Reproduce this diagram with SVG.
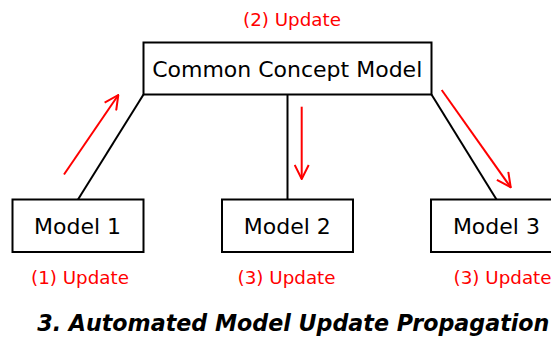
<svg xmlns="http://www.w3.org/2000/svg" width="551" height="338" viewBox="0 0 551 338">
  <style>
    .box { fill: #ffffff; stroke: #000000; stroke-width: 2; }
    .name { font-family: "DejaVu Sans", sans-serif; font-size: 22px; fill: #000000; text-anchor: middle; }
    .note { font-family: "DejaVu Sans", sans-serif; font-size: 18.3px; fill: #ff0000; }
    .link { stroke: #000000; stroke-width: 2; fill: none; }
    .flow { stroke: #ff0000; stroke-width: 2; fill: none; marker-end: url(#head); }
    .title { font-family: "DejaVu Sans", sans-serif; font-size: 22.2px; font-weight: bold; font-style: italic; text-anchor: middle; fill: #000000; }
  </style>
  <defs>
    <marker id="head" markerUnits="userSpaceOnUse" viewBox="0 0 16 16" refX="15" refY="8" markerWidth="16" markerHeight="16" orient="auto">
      <path d="M1,1 L15,8 L1,15" fill="none" stroke="#ff0000" stroke-width="2"/>
    </marker>
  </defs>

  <rect width="551" height="338" fill="#ffffff"/>

  <!-- structural links -->
  <g id="connectors">
    <line class="link" x1="143.5" y1="94.5" x2="78" y2="199.5"/>
    <line class="link" x1="287.5" y1="94.5" x2="287.5" y2="199.5"/>
    <line class="link" x1="431.5" y1="94.5" x2="496.5" y2="199.5"/>
  </g>

  <!-- update flow arrows -->
  <g id="update-arrows">
    <line class="flow" x1="64" y1="174.5" x2="118.3" y2="95"/>
    <line class="flow" x1="301.7" y1="106.7" x2="301.7" y2="179"/>
    <line class="flow" x1="441.7" y1="90" x2="510.7" y2="187.3"/>
  </g>

  <g id="common-model">
    <rect class="box" x="143.5" y="42.5" width="288" height="52"/>
    <text class="name" x="287.2" y="76.7">Common Concept Model</text>
    <text class="note" x="292" y="26" text-anchor="middle">(2) Update</text>
  </g>

  <g id="model-1">
    <rect class="box" x="12.5" y="199.5" width="131" height="52.5"/>
    <text class="name" x="77.5" y="234">Model 1</text>
    <text class="note" x="31" y="284">(1) Update</text>
  </g>

  <g id="model-2">
    <rect class="box" x="222" y="199.5" width="131" height="52.5"/>
    <text class="name" x="287.3" y="234">Model 2</text>
    <text class="note" x="237.6" y="284">(3) Update</text>
  </g>

  <g id="model-3">
    <rect class="box" x="431" y="199.5" width="131" height="52.5"/>
    <text class="name" x="496.4" y="234">Model 3</text>
    <text class="note" x="453.6" y="284">(3) Update</text>
  </g>

  <text class="title" x="293.3" y="331">3. Automated Model Update Propagation</text>
</svg>
